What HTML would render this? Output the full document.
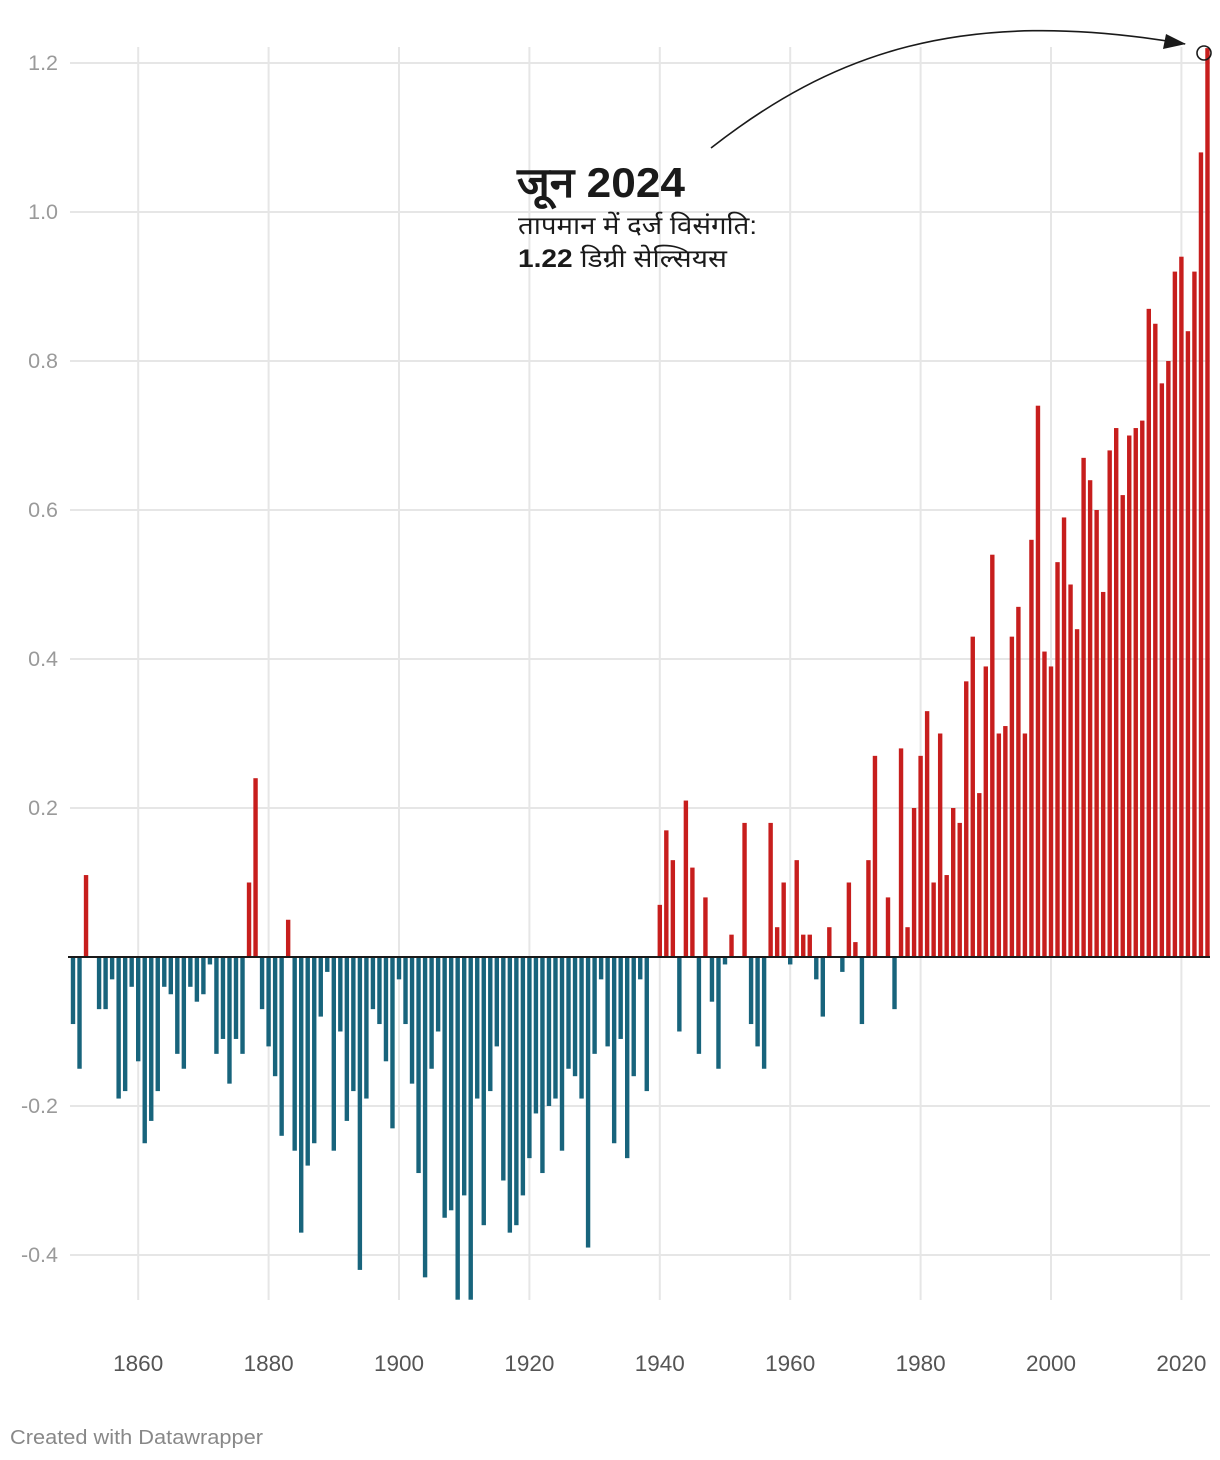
<!DOCTYPE html>
<html><head><meta charset="utf-8">
<style>
body{margin:0;background:#fff;width:1220px;height:1460px;overflow:hidden;font-family:"Liberation Sans","Noto Sans CJK SC",sans-serif;}
svg{display:block}
</style></head>
<body>
<svg id="chart" width="1220" height="1460" xmlns="http://www.w3.org/2000/svg">
<g id="grid"></g>
<g id="bars"></g>
<g id="axes"></g>
<g>
<path d="M711,148 C830,55 960,5 1185,44" fill="none" stroke="#1a1a1a" stroke-width="1.6"/>
<polygon points="1186,44 1166,34 1163,49" fill="#1a1a1a"/>
<circle cx="1204" cy="53" r="7" fill="none" stroke="#1a1a1a" stroke-width="1.6"/>
<text x="517" y="197" font-size="42" font-weight="bold" fill="#1a1a1a" textLength="168" lengthAdjust="spacingAndGlyphs">जून 2024</text>
<text x="518" y="234" font-size="25" fill="#1a1a1a" textLength="239" lengthAdjust="spacingAndGlyphs">तापमान में दर्ज विसंगति:</text>
<text x="518" y="267" font-size="25" fill="#1a1a1a" textLength="209" lengthAdjust="spacingAndGlyphs"><tspan font-weight="bold">1.22</tspan> डिग्री सेल्सियस</text>
</g>
<text x="10" y="1444" font-size="20" fill="#888" textLength="253" lengthAdjust="spacingAndGlyphs">Created with Datawrapper</text>
</svg>
<script>
const years = [];
for (let y = 1850; y <= 2024; y++) years.push(y);
const anomalies = [
-0.09,-0.15,0.11,0.00,-0.07,-0.07,-0.03,-0.19,-0.18,-0.04,
-0.14,-0.25,-0.22,-0.18,-0.04,-0.05,-0.13,-0.15,-0.04,-0.06,
-0.05,-0.01,-0.13,-0.11,-0.17,-0.11,-0.13,0.10,0.24,-0.07,
-0.12,-0.16,-0.24,0.05,-0.26,-0.37,-0.28,-0.25,-0.08,-0.02,
-0.26,-0.10,-0.22,-0.18,-0.42,-0.19,-0.07,-0.09,-0.14,-0.23,
-0.03,-0.09,-0.17,-0.29,-0.43,-0.15,-0.10,-0.35,-0.34,-0.46,
-0.32,-0.46,-0.19,-0.36,-0.18,-0.12,-0.30,-0.37,-0.36,-0.32,
-0.27,-0.21,-0.29,-0.20,-0.19,-0.26,-0.15,-0.16,-0.19,-0.39,
-0.13,-0.03,-0.12,-0.25,-0.11,-0.27,-0.16,-0.03,-0.18,0.00,
0.07,0.17,0.13,-0.10,0.21,0.12,-0.13,0.08,-0.06,-0.15,
-0.01,0.03,0.00,0.18,-0.09,-0.12,-0.15,0.18,0.04,0.10,
-0.01,0.13,0.03,0.03,-0.03,-0.08,0.04,0.00,-0.02,0.10,
0.02,-0.09,0.13,0.27,0.00,0.08,-0.07,0.28,0.04,0.20,
0.27,0.33,0.10,0.30,0.11,0.20,0.18,0.37,0.43,0.22,
0.39,0.54,0.30,0.31,0.43,0.47,0.30,0.56,0.74,0.41,
0.39,0.53,0.59,0.50,0.44,0.67,0.64,0.60,0.49,0.68,
0.71,0.62,0.70,0.71,0.72,0.87,0.85,0.77,0.80,0.92,
0.94,0.84,0.92,1.08,1.22];
const yTicks = [1.2,1.0,0.8,0.6,0.4,0.2,-0.2,-0.4];
const yTickLabels = ["1.2","1.0","0.8","0.6","0.4","0.2","-0.2","-0.4"];
const xTicks = [1860,1880,1900,1920,1940,1960,1980,2000,2020];

const NS = "http://www.w3.org/2000/svg";
const xScale = yr => 73 + (yr - 1850) * 6.52;
const yScale = v => 957 - v * 745;
function mk(tag, attrs, parent){const e=document.createElementNS(NS,tag);for(const k in attrs)e.setAttribute(k,attrs[k]);parent.appendChild(e);return e;}
const grid=document.getElementById('grid'), bars=document.getElementById('bars'), axes=document.getElementById('axes');

yTicks.forEach((v,i)=>{
  const l=mk('line',{x1:70,x2:1210,y1:yScale(v),y2:yScale(v),stroke:'#e6e6e6','stroke-width':2},grid);
  
  
  const t=mk('text',{x:58,y:yScale(v)+7,'text-anchor':'end','font-size':21.5,fill:'#9a9a9a'},axes);
  t.textContent=yTickLabels[i];
  
  
});
xTicks.forEach(yr=>{
  const l=mk('line',{x1:xScale(yr),x2:xScale(yr),y1:47,y2:1300,stroke:'#e6e6e6','stroke-width':2},grid);
  
  
  const t=mk('text',{x:xScale(yr),y:1371,'text-anchor':'middle','font-size':22.5,fill:'#555'},axes);
  t.textContent=String(yr);
  
  
});
years.forEach((yr,i)=>{
  const v=anomalies[i];
  if(v===0)return;
  const y0=yScale(0), y1=yScale(v);
  const r=mk('rect',{x:xScale(yr)-2.2,width:4.4,y:Math.min(y0,y1),height:Math.abs(y1-y0),fill:v>0?'#c71e1d':'#18647c'},bars);
  
  
});
const base=mk('line',{x1:68,x2:1210,y1:957,y2:957,stroke:'#1a1a1a','stroke-width':2},axes);


</script>
</body></html>
